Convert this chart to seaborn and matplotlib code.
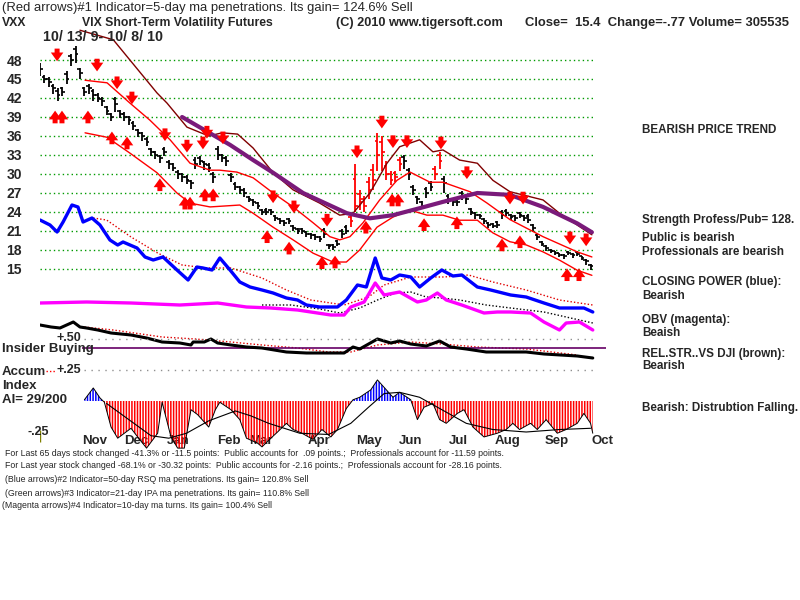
import matplotlib
matplotlib.use("Agg")
import matplotlib.pyplot as plt
import numpy as np
import pandas as pd
import seaborn as sns

# ---- price bars: one bar every 2 trading days from 10/13/09 (day index) ----
close = [46.5, 45, 44.5, 43.5, 42.5, 43, 45, 48, 49, 46,
         43, 43.5, 42.5, 42, 41.5, 40, 39, 41, 39.5, 39,
         38.5, 37.5, 36.5, 36, 35, 33.5, 33, 32.5, 33.5, 31.5,
         31, 30, 29.5, 29, 28.5, 31.5, 32, 31.5, 31, 29.5,
         33, 32.5, 32, 29.5, 28, 27.5, 27, 26, 25.5, 25,
         24, 24, 24, 23, 22.5, 22.3, 22.5, 21.5, 21, 21,
         20.5, 20.3, 20, 19.8, 20.5, 18.6, 18.5, 19, 20.5, 21,
         22.5, 25, 25.5, 25, 27.5, 29, 33, 33.5, 30, 29,
         29.5, 31.5, 32, 30, 27.5, 26, 25, 27, 28, 30,
         32, 28.5, 26, 25.5, 25.5, 26.5, 26, 24, 23.5, 23.3,
         22.5, 22, 21.8, 22, 23.5, 23.8, 23.2, 23, 23.5, 23,
         22.8, 21.5, 20, 19, 18.3, 17.8, 17.6, 17.2, 17, 17.5,
         17.2, 17.4, 16.8, 16.2, 15.4]
wick_up = [1.0, 0.6, 0.8, 0.7, 1.0, 0.8, 1.2, 1.0, 1.2, 0.8,
           0.8, 0.7, 0.9, 0.8, 0.6, 0.8, 0.7, 1.2, 0.6, 0.8,
           0.7, 0.8, 0.6, 0.7, 0.8, 0.6, 0.7, 0.5, 0.8, 0.7,
           0.8, 0.6, 0.7, 0.9, 0.6, 1.2, 0.8, 0.6, 0.7, 0.8,
           1.4, 0.7, 0.9, 0.6, 0.7, 0.6, 0.8, 0.6, 0.5, 0.6,
           0.5, 0.6, 0.4, 0.5, 0.6, 0.4, 0.5, 0.4, 0.5, 0.4,
           0.5, 0.4, 0.5, 0.4, 0.9, 0.4, 0.5, 0.6, 0.8, 0.9,
           1.2, 6.5, 2.0, 1.5, 2.0, 2.5, 3.5, 2.5, 2.0, 1.5,
           1.0, 1.2, 1.0, 1.0, 0.8, 0.6, 0.8, 1.0, 0.9, 1.2,
           1.5, 1.2, 0.8, 0.5, 0.6, 0.8, 0.6, 0.7, 0.5, 0.4,
           0.5, 0.4, 0.5, 0.6, 0.8, 0.6, 0.5, 0.6, 0.5, 0.6,
           0.9, 0.6, 0.5, 0.4, 0.5, 0.4, 0.3, 0.4, 0.3, 0.4,
           0.3, 0.4, 0.3, 0.3, 0.4]
wick_dn = [1.0, 0.7, 0.8, 0.8, 0.9, 0.7, 0.8, 1.0, 1.5, 1.0,
           0.7, 0.8, 0.9, 0.7, 0.8, 0.7, 0.6, 1.2, 0.7, 0.6,
           0.8, 0.6, 0.7, 0.8, 0.6, 0.7, 0.6, 0.8, 0.6, 0.7,
           0.6, 0.8, 0.7, 0.6, 0.8, 0.7, 0.6, 0.8, 0.7, 0.9,
           0.8, 0.6, 0.7, 0.8, 0.6, 0.7, 0.6, 0.5, 0.6, 0.5,
           0.4, 0.5, 0.5, 0.4, 0.4, 0.5, 0.4, 0.5, 0.4, 0.5,
           0.4, 0.5, 0.4, 0.5, 0.6, 0.4, 0.5, 0.4, 0.6, 0.5,
           0.8, 1.0, 1.2, 1.0, 1.5, 1.5, 2.5, 3.0, 1.0, 0.8,
           0.8, 1.0, 1.2, 1.0, 0.8, 0.7, 0.6, 0.8, 0.7, 0.9,
           1.2, 1.5, 0.7, 0.5, 0.6, 0.6, 0.7, 0.5, 0.6, 0.4,
           0.4, 0.5, 0.4, 0.5, 0.6, 0.5, 0.4, 0.5, 0.4, 0.5,
           0.6, 0.7, 0.5, 0.4, 0.4, 0.3, 0.4, 0.3, 0.4, 0.3,
           0.4, 0.3, 0.4, 0.5, 0.6]

# ---- bands and moving average (day, price) ----
maroon_day = [18, 33, 40.5, 52.7, 57.2, 66.2, 76, 82, 89, 96, 105, 114, 126, 135, 141,
              148.6, 156.3, 162, 171, 177, 181.5, 189, 197, 204, 211.7, 226.6, 234, 248.6]
maroon_val = [52.7, 51.2, 48, 42.8, 41.2, 37.4, 36.0, 36.5, 36.3, 34.1, 30.2, 27.5, 25.4, 23.5, 23.8,
              27, 31.7, 34.3, 35.4, 33.5, 33.8, 32.2, 31.7, 29, 27.2, 25.9, 23.8, 20.4]
upper_day = [20.3, 30.2, 40.5, 49.5, 58.6, 67.6, 76.6, 81, 88.7, 96, 105, 114, 123, 130.6,
             135, 139.6, 145.5, 153, 160.8, 166.7, 175.7, 181.5, 193.7, 201.4, 211.7, 226.6, 242, 248.6]
upper_val = [44.8, 44.4, 41.2, 38.5, 35.4, 31.7, 30.6, 30.6, 30.3, 29.4, 27, 24.8, 22.3, 20.1,
             19.6, 20.1, 22.3, 25.9, 29, 30.3, 28.7, 28.7, 27.2, 25.4, 22.8, 20.1, 17.7, 16.9]
lower_day = [20.3, 30.2, 40.5, 52.7, 61.7, 67.6, 76.6, 90, 96, 105, 114, 123, 132, 138, 144,
             151.8, 159, 166.7, 174.3, 181.5, 189, 197, 204, 211.7, 219, 226.6, 234, 242, 248.6]
lower_val = [36.5, 35.8, 33.3, 30.2, 27, 25.4, 24.8, 25.1, 23.8, 21.6, 19.6, 17.5, 16.1, 16.1, 18,
             21.6, 23.2, 24.3, 23.5, 23.5, 22.7, 22.7, 20.7, 19.3, 18.8, 17.7, 16.4, 14.8, 14]
ma65_day = [64, 85.6, 96, 105, 118.5, 138.3, 148.6, 159, 171, 181.5, 197, 211.7, 226.6, 242, 248.6]
ma65_val = [39, 34.6, 32.2, 30.2, 27, 23.8, 23, 23.5, 24.6, 25.6, 27, 26.7, 24.8, 22.2, 20.8]

# ---- signal arrows (day, price) ----
sell_day = [7.7, 25.7, 34.7, 41.4, 56.3, 66.2, 73.4, 75.2, 82.4, 105, 114.4, 129.3, 142.8,
            154, 159, 165.3, 180.6, 192.3, 211.7, 217.6, 238.7, 246]
sell_px = [48.8, 47.2, 44.4, 42.0, 36.2, 34.4, 34.9, 36.6, 35.7, 26.4, 24.8, 22.7, 33.5,
           38.2, 35.1, 35.1, 34.9, 30.2, 26.2, 26.2, 19.9, 19.6]
buy_day = [6.8, 9.9, 21.6, 32.4, 39.2, 54, 65.3, 67.6, 74.3, 78, 102.3, 112.2, 127, 132.9,
           146.8, 158.6, 161.3, 173, 187.8, 208.1, 216.2, 237.4, 242.8]
buy_px = [39, 39, 39, 35.7, 34.9, 28.3, 25.4, 25.4, 26.7, 26.7, 20.1, 18.3, 16, 16.1,
          21.6, 25.9, 25.9, 22, 22.3, 18.8, 19.3, 14.1, 14.1]

# ---- lower indicators (arbitrary panel units) ----
cp_day = [0, 4.5, 7.7, 10.4, 14.4, 17.1, 19.4, 23.4, 27, 31.5, 35, 37.4, 43.7, 47.3, 51,
          55.4, 61.7, 66.7, 70.7, 73.4, 77.5, 81, 85.6, 90, 94.6, 100, 105, 111, 116, 120,
          126, 134, 138, 143, 147, 151, 154, 158, 162, 167, 171, 176, 181, 186, 190, 197,
          203, 212, 219, 227, 234, 242, 245, 249]
cp_val = [145, 140, 133, 143, 160, 158, 143, 147, 140, 125, 120, 123, 117, 108, 105,
          108, 95, 85, 98, 97, 95, 107, 95, 83, 78, 75, 72, 67, 65, 60,
          58, 58, 65, 80, 78, 107, 87, 85, 90, 88, 78, 87, 95, 89, 90, 78,
          75, 70, 68, 62, 57, 57, 57, 53]
cpma_day = [24, 30, 41, 53, 64, 75, 86, 100, 111, 122, 137, 148, 155, 167, 182, 193, 204, 219, 234, 249]
cpma_val = [147, 145, 128, 112, 100, 97, 97, 87, 75, 65, 60, 68, 80, 88, 88, 90, 83, 75, 65, 60]
obv_day = [0, 21, 41, 63, 80, 93, 104, 116, 122, 131, 137, 140, 146, 151, 155, 162, 170,
           174, 179, 183, 190, 200, 206, 212, 221, 227, 234, 237, 243, 249]
obv_val = [62, 63, 62, 60, 62, 58, 57, 55, 53, 50, 50, 58, 63, 82, 70, 73, 63,
           65, 72, 65, 60, 52, 53, 53, 52, 43, 35, 42, 43, 35]
obvma_day = [100, 113, 126, 135, 144, 152, 160, 167, 174, 181, 189, 201, 212, 227, 239, 249]
obvma_val = [60, 60, 56, 52, 57, 65, 72, 73, 68, 67, 65, 60, 57, 53, 47, 42]
rs_day = [0, 5, 9, 12, 15, 18, 21, 26, 32, 41, 48, 55, 63, 68, 69, 74, 77, 80, 86, 93,
          100, 111, 120, 131, 137, 141, 144, 152, 158, 162, 167, 174, 180, 185, 192,
          201, 212, 219, 227, 242, 249]
rs_val = [40, 38, 37, 40, 43, 38, 37, 35, 32, 30, 27, 23, 22, 20, 23, 23, 26, 22, 20, 18,
          17, 13, 12, 12, 12, 18, 16, 26, 22, 24, 21, 19, 24, 18, 16,
          13, 13, 13, 11, 9, 7]
rsma_day = [20, 33, 55, 70, 86, 100, 116, 130, 140, 152, 167, 181, 197, 219, 242]
rsma_val = [38, 35, 28, 26, 23, 20, 17, 13, 13, 20, 23, 21, 18, 16, 10]
insider_level = 17

ai_day = [20, 24, 27, 29, 32, 35, 38, 41, 44, 48, 53, 55, 59, 62, 65, 68, 71, 76, 79, 81,
          86, 90, 93, 98, 100, 104, 107, 111, 114, 118, 123, 127, 131, 134, 138, 141, 144,
          149, 152, 155, 159, 162, 167, 170, 173, 177, 180, 183, 188, 191, 195, 200, 206,
          210, 213, 216, 221, 224, 228, 233, 237, 242, 245, 248, 249]
ai_val = [0.01, 0.105, 0.025, -0.01, -0.21, -0.30, -0.26, -0.22, -0.29, -0.38, -0.26, -0.01,
          -0.29, -0.38, -0.38, -0.07, -0.11, -0.21, -0.07, -0.01, -0.07, -0.15, -0.30, -0.34,
          -0.37, -0.30, -0.25, -0.18, -0.23, -0.26, -0.31, -0.23, -0.29, -0.23, -0.06, 0.01,
          0.03, 0.09, 0.17, 0.11, 0.03, 0.07, 0.01, -0.15, -0.05, -0.02, -0.15, -0.18, -0.10,
          -0.07, -0.21, -0.29, -0.26, -0.23, -0.18, -0.23, -0.18, -0.23, -0.15, -0.26, -0.23,
          -0.18, -0.10, -0.18, -0.26]
aima_day = [30, 40, 50, 58, 66, 76, 88, 95, 103, 117, 130, 140, 148, 155, 162, 171, 181, 192, 204, 219, 234, 248]
aima_val = [-0.02, -0.15, -0.28, -0.30, -0.26, -0.16, -0.08, -0.12, -0.18, -0.26, -0.27, -0.18,
            -0.05, 0.06, 0.07, 0.03, -0.07, -0.18, -0.23, -0.25, -0.23, -0.22]

price_levels = [15, 18, 21, 24, 27, 30, 33, 36, 39, 42, 45, 48]
months = ["Nov", "Dec", "Jan", "Feb", "Mar", "Apr", "May", "Jun", "Jul", "Aug", "Sep", "Oct"]
month_day = [24.8, 43.2, 62.2, 85.1, 99.5, 125.7, 148.2, 167.1, 188.3, 210.4, 232.9, 253.2]

right_notes = [
    (130, "BEARISH PRICE TREND"),
    (220, "Strength Profess/Pub= 128."),
    (238, "Public is bearish"),
    (252, "Professionals are bearish"),
    (282, "CLOSING POWER (blue):"),
    (296, "Bearish"),
    (320, "OBV (magenta):"),
    (333, "Beaish"),
    (354, "REL.STR..VS DJI (brown):"),
    (366, "Bearish"),
    (408, "Bearish: Distrubtion Falling."),
]
bottom_notes = [
    (5, 453, "For Last 65 days stock changed -41.3% or -11.5 points:  Public accounts for  .09 points.;  Professionals account for -11.59 points."),
    (5, 466, "For Last year stock changed -68.1% or -30.32 points:  Public accounts for -2.16 points.;  Professionals account for -28.16 points."),
    (5, 480, "(Blue arrows)#2 Indicator=50-day RSQ ma penetrations. Its gain= 120.8% Sell"),
    (5, 493, "(Green arrows)#3 Indicator=21-day IPA ma penetrations. Its gain= 110.8% Sell"),
    (2, 506, "(Magenta arrows)#4 Indicator=10-day ma turns. Its gain= 100.4% Sell"),
]

W, H = 800, 600
X0, X1 = 40, 40 + 2.22 * 262
DAYS = (0, 262)


def rect(left, top, right, bottom):
    return [left / W, 1 - bottom / H, (right - left) / W, (bottom - top) / H]


def put(x, y, s, **kw):
    kw.setdefault("fontsize", 8.8)
    fig.text(x / W, 1 - y / H, s, va="center", ha=kw.pop("ha", "left"), **kw)


sns.set_theme(style="white")
plt.rcParams["font.family"] = ["Liberation Sans", "DejaVu Sans"]
plt.rcParams["hatch.linewidth"] = 1.1

fig = plt.figure(figsize=(8, 6), dpi=100)

# ---------------- price panel ----------------
ax = fig.add_axes(rect(X0, 20, X1, 300))
ax.set_xlim(*DAYS)
ax.set_ylim(48 - 240 / 6.333, 48 + 40 / 6.333)
ax.patch.set_alpha(0)
sns.despine(ax=ax, left=True, bottom=True)
ax.hlines(price_levels, 0, 250, colors="#009a00", linestyles=(0, (1, 2.2)), lw=1)
ax.set_yticks(price_levels)
ax.set_yticklabels([str(v) for v in price_levels], fontsize=10, fontweight="bold")
ax.tick_params(axis="y", length=0, pad=13)
ax.set_xticks([])

bars = pd.DataFrame({"day": np.arange(0, 2 * len(close), 2), "close": close,
                     "up": wick_up, "dn": wick_dn})
bars["hi"] = bars["close"] + bars["up"]
bars["lo"] = bars["close"] - bars["dn"]
red_bar = bars["day"].between(139, 163) | bars["day"].between(178, 181)
for mask, col in [(~red_bar, "black"), (red_bar, "red")]:
    b = bars[mask]
    ax.vlines(b["day"], b["lo"], b["hi"], color=col, lw=1.3)
    ax.hlines(b["close"], b["day"], b["day"] + 1.2, color=col, lw=1.2)
    ax.hlines(b["hi"] - 0.35 * b["up"], b["day"] - 1.2, b["day"], color=col, lw=1.2)

sns.lineplot(x=maroon_day, y=maroon_val, ax=ax, color="#800000", lw=1, estimator=None)
sns.lineplot(x=upper_day, y=upper_val, ax=ax, color="#ff0000", lw=1, estimator=None)
sns.lineplot(x=lower_day, y=lower_val, ax=ax, color="#ff0000", lw=1, estimator=None)
sns.lineplot(x=ma65_day, y=ma65_val, ax=ax, color="#7a1a7a", lw=3, estimator=None)

arrow = dict(arrowstyle="simple,head_width=1.0,head_length=0.7,tail_width=0.4",
             color="red", lw=0, shrinkA=0, shrinkB=0, mutation_scale=9)
for d, p in zip(sell_day, sell_px):
    ax.annotate("", xy=(d, p - 1.0), xytext=(d, p + 1.0), arrowprops=arrow)
for d, p in zip(buy_day, buy_px):
    ax.annotate("", xy=(d, p + 1.0), xytext=(d, p - 1.0), arrowprops=arrow)
ax.set_xlabel("")
ax.set_ylabel("")

# ---------------- closing power / OBV / rel. strength ----------------
bx = fig.add_axes(rect(X0, 190, X1, 365))
bx.set_xlim(*DAYS)
bx.set_ylim(0, 175)
bx.patch.set_alpha(0)
bx.axis("off")
sns.lineplot(x=cpma_day, y=cpma_val, ax=bx, color="#e00000", lw=1, linestyle=(0, (1, 1.5)), estimator=None)
sns.lineplot(x=obvma_day, y=obvma_val, ax=bx, color="black", lw=1, linestyle=(0, (1, 1.5)), estimator=None)
sns.lineplot(x=rsma_day, y=rsma_val, ax=bx, color="#e00000", lw=1, linestyle=(0, (1, 1.5)), estimator=None)
sns.lineplot(x=obv_day, y=obv_val, ax=bx, color="#ff00ff", lw=2.4, estimator=None)
sns.lineplot(x=cp_day, y=cp_val, ax=bx, color="#0000ff", lw=2.4, estimator=None)
bx.hlines(insider_level, 19, 255, color="#660066", lw=1.2)
sns.lineplot(x=rs_day, y=rs_val, ax=bx, color="black", lw=2.2, estimator=None)

# ---------------- accumulation index ----------------
cx = fig.add_axes(rect(X0, 320, X1, 450))
cx.set_xlim(*DAYS)
cx.set_ylim(-49 / 124, 81 / 124)
cx.patch.set_alpha(0)
sns.despine(ax=cx, left=True, bottom=True)
cx.set_yticks([])
cx.hlines([0.5, 0.25], 20, 249, colors="#909090", linestyles=(0, (1, 4)), lw=1)
cx.hlines(0.245, 2.5, 7, colors="red", linestyles=(0, (1, 1.5)), lw=1)
ai = np.array(ai_val)
cx.fill_between(ai_day, ai, 0, where=ai >= 0, interpolate=True, facecolor="none",
                edgecolor="#0000ff", hatch="||||||", lw=0)
cx.fill_between(ai_day, ai, 0, where=ai <= 0, interpolate=True, facecolor="none",
                edgecolor="#ff0000", hatch="||||||", lw=0)
sns.lineplot(x=ai_day, y=ai_val, ax=cx, color="black", lw=0.7, estimator=None)
sns.lineplot(x=aima_day, y=aima_val, ax=cx, color="black", lw=0.8, estimator=None)
cx.vlines(0, -0.33, -0.23, color="#808000", lw=1)
cx.set_xticks(month_day)
cx.set_xticklabels(months, fontsize=9.5, fontweight="bold")
cx.tick_params(axis="x", length=0, pad=-11)
cx.set_xlabel("")
cx.set_ylabel("")

# ---------------- texts ----------------
put(2, 8, "(Red arrows)#1 Indicator=5-day ma penetrations. Its gain= 124.6% Sell", fontsize=9.4)
put(2, 23, "VXX", fontweight="bold")
put(82, 23, "VIX Short-Term Volatility Futures", fontweight="bold")
put(336, 23, "(C) 2010 www.tigersoft.com", fontweight="bold", fontsize=9.2)
put(525, 23, "Close=  15.4  Change=-.77 Volume= 305535", fontweight="bold", fontsize=9.4)
put(43, 37, "10/ 13/ 9- 10/ 8/ 10", fontweight="bold", fontsize=10.3)
for y, s in right_notes:
    put(642, y, s, fontweight="bold", fontsize=8.4)
put(57, 338, "+.50", fontweight="bold", fontsize=9)
put(2, 349, "Insider Buying", fontweight="bold", fontsize=9.5)
put(2, 372, "Accum", fontweight="bold", fontsize=9.5)
put(57, 370, "+.25", fontweight="bold", fontsize=9)
put(2, 386, "Index", fontweight="bold", fontsize=9.5)
put(2, 400, "AI= 29/200", fontweight="bold", fontsize=9.5)
put(27, 432, "-.25", fontweight="bold", fontsize=9)
for x, y, s in bottom_notes:
    put(x, y, s, fontsize=6.3)

fig.savefig("out.png", dpi=100)
